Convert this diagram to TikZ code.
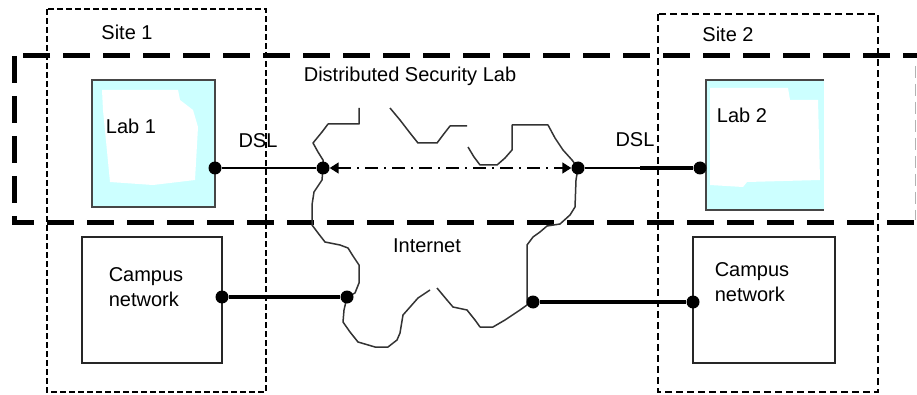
\documentclass[tikz,border=0pt]{standalone}
\usepackage{fontspec}
\setmainfont{Liberation Sans}
\usetikzlibrary{arrows.meta}
\definecolor{labcyan}{HTML}{CCFFFF}
\tikzset{
  bigdash/.style={line width=5pt, dash pattern=on 27pt off 13pt},
  siteone/.style={line width=2.5pt, dash pattern=on 6pt off 3pt},
  sitetwo/.style={line width=1.4pt, dash pattern=on 7pt off 4pt},
  labbox/.style={rectangle, fill=labcyan, draw=gray!55!black, line width=2pt, inner sep=0pt},
  campusbox/.style={rectangle, draw=black!85, line width=2.4pt, inner sep=0pt},
  cloudline/.style={line width=1.5pt, draw=black!80, line join=round},
  port/.style={circle, fill=black, inner sep=0pt, minimum size=13pt},
  thinlink/.style={line width=2pt},
  thicklink/.style={line width=3.6pt},
  tunnel/.style={line width=1.6pt, dash pattern=on 13pt off 6pt on 2pt off 6pt,
    {Triangle[length=9pt,width=11pt]}-{Triangle[length=9pt,width=11pt]}},
  lbl/.style={inner sep=0pt, font=\fontsize{20}{25}\selectfont},
}
\begin{document}
\begin{tikzpicture}[x=1pt, y=-1pt]
\useasboundingbox (0,0) rectangle (917,395);
\clip (0,0) rectangle (917,395);
\fill[white] (0,0) rectangle (917,395);

% site boundaries
\draw[siteone] (47,9) rectangle (266,392);
\draw[sitetwo] (658,14) rectangle (878,392);

% distributed security lab boundary
\draw[bigdash] (14,56) rectangle (925,223);
\draw[gray!60, line width=1pt, dash pattern=on 12pt off 6pt] (915,66) -- (915,220);

% labs
\node[labbox, minimum width=123pt, minimum height=127pt] (lab1) at (153.5,143.5) {};
\fill[white] (102,90) -- (178,90) -- (180,100) -- (193,110) -- (198,127) -- (195,180)
  -- (153,185) -- (110,182) -- (103,110) -- cycle;
\fill[labcyan] (706,80) rectangle (824,210);
\fill[white] (710,88) -- (788,88) -- (790,100) -- (818,100) -- (820,180) -- (747,182)
  -- (743,187) -- (710,185) -- cycle;
\coordinate (lab2nw) at (706,80);
\coordinate (lab2sw) at (706,210);
\draw[gray!55!black, line width=2pt] (824,80) -- (lab2nw) -- (lab2sw) -- (824,210);

% campus networks
\node[campusbox, minimum width=140pt, minimum height=126pt] (campus1) at (152,300) {};
\node[campusbox, minimum width=142pt, minimum height=126pt] (campus2) at (764,300) {};

% internet cloud outline
\draw[cloudline] (359,108) -- (359,124) -- (328,124) -- (322,132) -- (313,143) -- (318,152)
  -- (323,160) -- (323,168) -- (322,180) -- (314,192) -- (312,205) -- (312,225) -- (318,233)
  -- (325,242) -- (340,245) -- (348,248) -- (353,256) -- (359,265) -- (359,283) -- (355,293)
  -- (347,297) -- (344,310) -- (343,322) -- (350,332) -- (358,342) -- (375,347) -- (388,347)
  -- (397,340) -- (400,333) -- (403,315) -- (418,298) -- (430,290);
\draw[cloudline] (437,288) -- (447,300) -- (453,307) -- (467,310) -- (475,320) -- (480,327)
  -- (493,327) -- (505,320) -- (520,310) -- (527,305) -- (527,245) -- (533,237) -- (540,232)
  -- (547,226) -- (560,224) -- (570,215) -- (575,207) -- (576,180) -- (578,168) -- (572,160)
  -- (563,150) -- (555,138) -- (548,125) -- (512,125) -- (512,150) -- (505,158) -- (497,165)
  -- (480,165) -- (474,157) -- (468,147);
\draw[cloudline] (390,108) -- (400,120) -- (410,133) -- (418,143) -- (437,143) -- (443,135)
  -- (450,126) -- (467,126);

% connection points
\node[port] (lab1port) at (215,168) {};
\node[port] (netL) at (323,168) {};
\node[port] (netR) at (578,168) {};
\node[port] (lab2port) at (700,168) {};
\node[port] (campus1port) at (222,297) {};
\node[port] (netC1) at (347,297) {};
\node[port] (netC2) at (533,302) {};
\node[port] (campus2port) at (693,302) {};
\coordinate (dslthick) at (640,168);

% links
\draw[thinlink] (lab1port) -- (netL);
\draw[tunnel] (netL) -- (netR);
\draw[thinlink] (netR) -- (lab2port);
\draw[thicklink] (dslthick) -- (lab2port);
\draw[thicklink] (campus1port) -- (netC1);
\draw[thicklink] (netC2) -- (campus2port);

% labels
\node[lbl] (site1) at (127,32) {Site 1};
\node[lbl] (site2) at (728,34) {Site 2};
\node[lbl] (dsl) at (410,76) {Distributed Security Lab};
\node[lbl] (lab1t) at (131,126) {Lab 1};
\node[lbl] (lab2t) at (742,115) {Lab 2};
\node[lbl] (dslL) at (258,141) {DSL};
\node[lbl] (dslR) at (635,140) {DSL};
\node[lbl] (inet) at (427,246) {Internet};
\node[lbl, align=left] (camp1t) at (146,287) {Campus\\network};
\node[lbl, align=left] (camp2t) at (752,282) {Campus\\network};
\end{tikzpicture}
\end{document}
